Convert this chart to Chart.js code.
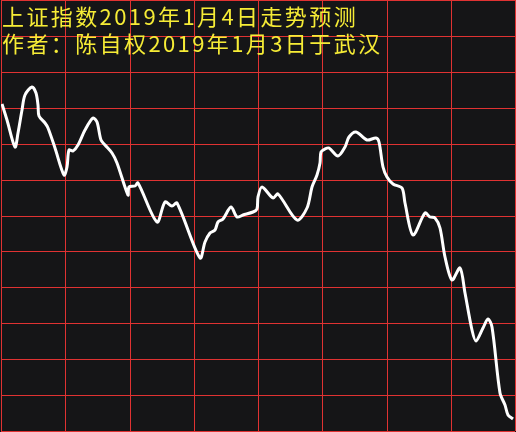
<!DOCTYPE html>
<html>
<head>
<meta charset="utf-8">
<script src="https://cdn.jsdelivr.net/npm/chart.js@4.4.1/dist/chart.umd.min.js"></script>
<style>
  html, body { margin: 0; padding: 0; background: #151517; }
  #wrap { width: 516px; height: 432px; position: relative; }
</style>
</head>
<body>
<div id="wrap"><canvas id="c" width="516" height="432"></canvas></div>
<script>
// Title lines
const titleLines = ["上证指数2019年1月4日走势预测", "作者：陈自权2019年1月3日于武汉"];

// Time axis: trading minutes of the day (0..240), gridline every 30 minutes
const minutes = [0.5, 2.8, 6.5, 7.9, 9.8, 11.2, 14.5, 16.3, 17.3, 17.7, 20.5, 22.0, 25.2, 29.4, 30.8, 31.8, 33.6, 36.0, 39.2, 43.0,
  44.8, 46.7, 48.6, 51.8, 54.2, 59.3, 59.8, 62.6, 64.0, 72.8, 76.6, 79.8, 82.2, 92.9, 95.3, 97.6, 99.9, 101.3, 103.7, 107.4,
  110.2, 113.0, 117.7, 119.5, 120.0, 121.9, 127.0, 129.3, 138.2, 142.9, 145.2, 147.6, 149.0, 149.4, 151.3, 153.2, 157.4, 160.6, 162.5, 165.8,
  170.9, 175.1, 176.5, 178.4, 180.2, 183.0, 187.2, 188.6, 192.4, 198.0, 200.3, 202.7, 205.0, 207.3, 210.6, 214.3, 216.7, 219.9, 221.8, 225.1,
  227.4, 229.3, 233.0, 235.3, 236.7, 239.1];

// Predicted index level, in grid-row units (0 = bottom, 12 = top)
const levels = [9.10, 8.66, 7.91, 8.30, 8.94, 9.35, 9.58, 9.41, 9.08, 8.77, 8.58, 8.44, 7.88, 7.13, 7.35, 7.82, 7.80, 7.96, 8.38, 8.71,
  8.60, 8.10, 7.96, 7.74, 7.46, 6.57, 6.79, 6.82, 6.90, 5.82, 6.38, 6.26, 6.35, 4.82, 5.26, 5.51, 5.60, 5.82, 5.90, 6.24,
  5.96, 6.01, 6.10, 6.18, 6.52, 6.79, 6.49, 6.60, 5.87, 6.21, 6.79, 7.13, 7.46, 7.77, 7.85, 7.88, 7.66, 7.91, 8.19, 8.32,
  8.10, 8.16, 8.05, 7.35, 7.07, 6.88, 6.77, 6.35, 5.46, 6.07, 5.96, 5.93, 5.65, 4.84, 4.20, 4.54, 3.84, 2.81, 2.51, 2.87,
  3.12, 2.90, 1.06, 0.72, 0.45, 0.33];

const xMin = 0, xMax = 240, xStep = 30;
const yMin = 0, yMax = 12, yStep = 1;

const points = minutes.map((m, i) => ({ x: m, y: levels[i] }));

const bgPlugin = {
  id: 'bg',
  beforeDraw(chart) {
    const ctx = chart.ctx;
    ctx.save();
    ctx.fillStyle = '#151517';
    ctx.fillRect(0, 0, chart.width, chart.height);
    ctx.restore();
  }
};

const textPlugin = {
  id: 'titleText',
  afterDraw(chart) {
    const ctx = chart.ctx;
    ctx.save();
    ctx.fillStyle = '#f6ec36';
    ctx.font = '22px "Noto Sans CJK SC", sans-serif';
    ctx.textBaseline = 'alphabetic';
    ctx.textAlign = 'left';
    try { ctx.letterSpacing = '2.4px'; } catch (e) {}
    ctx.fillText(titleLines[0], 2, 25);
    ctx.fillText(titleLines[1], 2, 52);
    ctx.restore();
  }
};

new Chart(document.getElementById('c'), {
  type: 'line',
  data: {
    datasets: [{
      data: points,
      borderColor: '#ffffff',
      borderWidth: 3,
      pointRadius: 0,
      tension: 0.3,
      fill: false
    }]
  },
  options: {
    responsive: false,
    animation: false,
    events: [],
    layout: { padding: { left: 1, right: 1, top: 0, bottom: 1 } },
    plugins: { legend: { display: false }, tooltip: { enabled: false }, title: { display: false } },
    scales: {
      x: {
        type: 'linear', min: xMin, max: xMax, alignToPixels: true,
        ticks: { display: false, stepSize: xStep },
        grid: { color: '#e03232', lineWidth: 1, drawTicks: false },
        border: { display: false }
      },
      y: {
        type: 'linear', min: yMin, max: yMax, alignToPixels: true,
        ticks: { display: false, stepSize: yStep },
        grid: { color: '#e03232', lineWidth: 1, drawTicks: false },
        border: { display: false }
      }
    }
  },
  plugins: [bgPlugin, textPlugin]
});
</script>
</body>
</html>
